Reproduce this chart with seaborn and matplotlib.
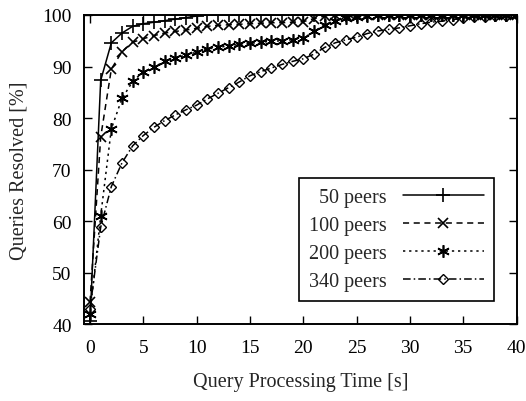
import matplotlib
matplotlib.use('Agg')  # Use non-interactive backend
import matplotlib.pyplot as plt
import pandas as pd
import numpy as np
import seaborn as sns

# query processing time [s]
times = list(range(0, 41))

peers_50 = [40.5, 87.3, 94.6, 96.5, 97.8, 98.3, 98.6, 98.9, 99.2, 99.5,
            99.8, 100, 100, 100, 100, 100, 100, 100, 100, 100,
            100, 100, 100, 100, 100, 100, 100, 100, 100, 100,
            100, 100, 100, 100, 100, 100, 100, 100, 100, 100, 100]
peers_100 = [44.3, 76.3, 89.5, 92.9, 94.7, 95.4, 96.0, 96.5, 96.8, 97.1,
             97.4, 97.8, 98.0, 98.1, 98.2, 98.3, 98.4, 98.5, 98.5, 98.6,
             98.7, 99.3, 99.8, 100, 100, 100, 100, 100, 100, 100,
             100, 100, 100, 100, 100, 100, 100, 100, 100, 100, 100]
peers_200 = [42.0, 61.0, 77.9, 83.8, 87.1, 89.0, 89.9, 91.0, 91.7, 92.2,
             92.8, 93.4, 93.7, 94.0, 94.3, 94.5, 94.7, 94.9, 95.0, 95.2,
             95.5, 96.8, 98.1, 98.9, 99.4, 99.7, 99.9, 100, 100, 100,
             100, 100, 100, 100, 100, 100, 100, 100, 100, 100, 100]
peers_340 = [43.0, 58.8, 66.7, 71.3, 74.6, 76.6, 78.2, 79.5, 80.6, 81.6,
             82.5, 83.7, 84.8, 85.9, 87.0, 88.2, 89.0, 89.7, 90.4, 91.0,
             91.5, 92.4, 93.7, 94.6, 95.2, 95.7, 96.4, 96.9, 97.2, 97.5,
             97.9, 98.3, 98.6, 98.8, 99.1, 99.4, 99.6, 99.7, 99.8, 99.9, 100]

series_labels = ['50 peers', '100 peers', '200 peers', '340 peers']
series_values = [peers_50, peers_100, peers_200, peers_340]

rows = []
for label, vals in zip(series_labels, series_values):
    for t, v in zip(times, vals):
        rows.append({'time': t, 'resolved': v, 'peers': label})
df = pd.DataFrame(rows)

sns.set_style('ticks')
plt.rcParams['font.family'] = ['Liberation Serif', 'DejaVu Serif']
plt.rcParams['font.size'] = 14

fig = plt.figure(figsize=(5.26, 4.02), dpi=100)
ax = fig.add_axes([0.160, 0.1915, 0.822, 0.7687])

# line style per series (gnuplot look)
styles = {
    '50 peers': dict(linestyle='-', marker='+', markersize=10, mew=1.2),
    '100 peers': dict(linestyle=(0, (4, 3)), marker='x', markersize=7.5, mew=1.2),
    '200 peers': dict(linestyle=(0, (1.5, 2.5)), marker=(6, 2, 0), markersize=9, mew=1.2),
    '340 peers': dict(linestyle=(0, (5, 2, 1, 2)), marker='D', markersize=5,
                      mew=1.0, fillstyle='none'),
}

for label in series_labels:
    sub = df[df['peers'] == label]
    sns.lineplot(data=sub, x='time', y='resolved', ax=ax, color='black',
                 linewidth=1.1, label=label, markeredgecolor='black',
                 **styles[label])

ax.set_xlim(-0.55, 40)
ax.set_ylim(40, 100)
ax.set_xticks(range(0, 41, 5))
ax.set_yticks(range(40, 101, 10))
ax.tick_params(direction='in', length=6, width=1, top=True, right=True,
               labelsize=14, colors='black')
ax.tick_params(axis='x', pad=11)
ax.tick_params(axis='y', pad=9)
for spine in ax.spines.values():
    spine.set_linewidth(1.4)
    spine.set_color('black')
    spine.set_visible(True)

ax.set_xlabel('Query Processing Time [s]', fontsize=14.5, labelpad=11)
ax.set_ylabel('Queries Resolved [%]', fontsize=14.5, labelpad=10)

leg = ax.legend(loc='lower right', bbox_to_anchor=(0.9475, 0.0735),
                borderaxespad=0, markerfirst=False, handlelength=4.0,
                labelspacing=0.45, fontsize=14.5, fancybox=False,
                framealpha=1, edgecolor='black', borderpad=0.5,
                handletextpad=0.8)
leg.get_frame().set_linewidth(1.2)

fig.savefig('out.png', dpi=100)
plt.close(fig)
